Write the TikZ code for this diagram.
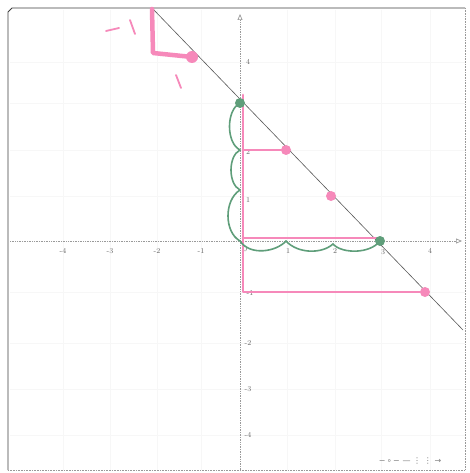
\documentclass[tikz,border=0pt]{standalone}
\usepackage{fontspec}
\newfontfamily\symfont{DejaVu Sans}
\usetikzlibrary{arrows.meta}
\definecolor{pinkpen}{HTML}{F689BA}
\definecolor{greenpen}{HTML}{5F9E7A}
\definecolor{axisgray}{HTML}{9A9A9A}
\tikzset{
  gridline/.style={draw=gray!6, line width=0.5pt},
  axisline/.style={draw=axisgray, line width=0.7pt, densely dotted},
  framebox/.style={draw=black!75, line width=0.8pt},
  ticklab/.style={font=\fontsize{7.5}{8}\selectfont, text=black!60, inner sep=1pt},
  pinkstroke/.style={draw=pinkpen, line width=2.8pt, line cap=round, line join=round},
  pinkthick/.style={draw=pinkpen, line width=4.5pt, line cap=round, line join=round},
  pinkthin/.style={draw=pinkpen, line width=1.8pt, line cap=round},
  greenstroke/.style={draw=greenpen, line width=1.6pt, line cap=round},
  pinkblob/.style={circle, fill=pinkpen, minimum size=10pt, inner sep=0pt},
  greenblob/.style={circle, fill=greenpen, minimum size=10pt, inner sep=0pt},
  diag/.style={draw=black!65, line width=0.6pt},
}
\begin{document}
\begin{tikzpicture}[x=1pt,y=-1pt]
\useasboundingbox (0,0) rectangle (469,473);
\fill[white] (0,0) rectangle (469,473);
% faint grid
\foreach \gx in {63,110,157,201,287,335,381,430}
  \draw[gridline] (\gx,10) -- (\gx,470);
\foreach \gy in {62,103,150,196,292,343,389,435}
  \draw[gridline] (10,\gy) -- (465,\gy);
% frame
\draw[framebox] (8,470) -- (8,12) -- (12,8) -- (465,8);
\draw[draw=black!40, line width=0.6pt, densely dotted] (465,8) -- (465,470) -- (8,470);
% axes
\coordinate (xl) at (10,241);
\coordinate (xr) at (462,241);
\coordinate (yb) at (240,470);
\coordinate (yt) at (240,14);
\draw[axisline, -{Triangle[open,length=6pt,width=5pt]}] (xl) -- (xr);
\draw[axisline, -{Triangle[open,length=6pt,width=5pt]}] (yb) -- (yt);
% tick labels
\node[ticklab] (lxm4) at (63,251) {-4};
\node[ticklab] (lxm3) at (110,251) {-3};
\node[ticklab] (lxm2) at (157,251) {-2};
\node[ticklab] (lxm1) at (201,251) {-1};
\node[ticklab] (lx0) at (245,249) {0};
\node[ticklab] (lx1) at (288,251) {1};
\node[ticklab] (lx2) at (335,251) {2};
\node[ticklab] (lx3) at (383,252) {3};
\node[ticklab] (lx4) at (430,251) {4};
\node[ticklab] (ly4) at (248,62) {4};
\node[ticklab] (ly2) at (248,152) {2};
\node[ticklab] (ly1) at (248,200) {1};
\node[ticklab] (lym1) at (250,293) {-1};
\node[ticklab] (lym2) at (248,343) {-2};
\node[ticklab] (lym3) at (248,389) {-3};
\node[ticklab] (lym4) at (248,435) {-4};
% diagonal line y = -x + 3
\coordinate (dtop) at (152,8);
\coordinate (dbot) at (463,330);
\draw[diag] (dtop) -- (dbot);
% pink marks: top-left
\node[pinkblob, minimum size=12pt] (p1) at (192,57) {};
\coordinate (p1a) at (152,9);
\coordinate (p1b) at (153,53);
\draw[pinkthick] (p1a) -- (p1b) -- (p1.center);
\draw[pinkthin] (106,31) -- (119,28);
\draw[pinkthin] (130,20) -- (135,34);
\draw[pinkthin] (176,75) -- (181,88);
% pink: along y-axis and bottom
\node[pinkblob] (p2) at (286,150) {};
\node[pinkblob] (p3) at (331,196) {};
\node[pinkblob] (p4) at (425,292) {};
\coordinate (yv1) at (243,95);
\coordinate (yv2) at (243,292);
\coordinate (yh2) at (243,150);
\coordinate (yh3) at (243,238);
\coordinate (yh3e) at (377,238);
\draw[pinkstroke] (yv1) -- (yv2) -- (p4);
\draw[pinkstroke] (yh2) -- (p2);
\draw[pinkstroke] (yh3) -- (yh3e);
% green arcs
\coordinate (g0) at (240,241);
\coordinate (g1) at (240,190);
\coordinate (g2) at (240,150);
\coordinate (g3) at (240,103);
\coordinate (h1) at (286,241);
\coordinate (h2) at (333,244);
\coordinate (h3) at (380,241);
\draw[greenstroke] (g3) .. controls (226,110) and (226,143) .. (g2);
\draw[greenstroke] (g2) .. controls (228,156) and (228,184) .. (g1);
\draw[greenstroke] (g1) .. controls (224,200) and (224,232) .. (g0);
\draw[greenstroke] (g0) .. controls (250,256) and (276,252) .. (h1);
\draw[greenstroke] (h1) .. controls (298,254) and (322,254) .. (h2);
\draw[greenstroke] (h2) .. controls (342,254) and (370,254) .. (h3);
\node[greenblob] (gb1) at (g3) {};
\node[greenblob] (gb2) at (h3) {};
% toolbar
\node[font=\symfont\fontsize{8}{9}\selectfont, text=black!50] (tools) at (410,461) {−\,∘\,−\,\,—\,\,⋮\,\,⋮\,\,→};
\end{tikzpicture}
\end{document}
